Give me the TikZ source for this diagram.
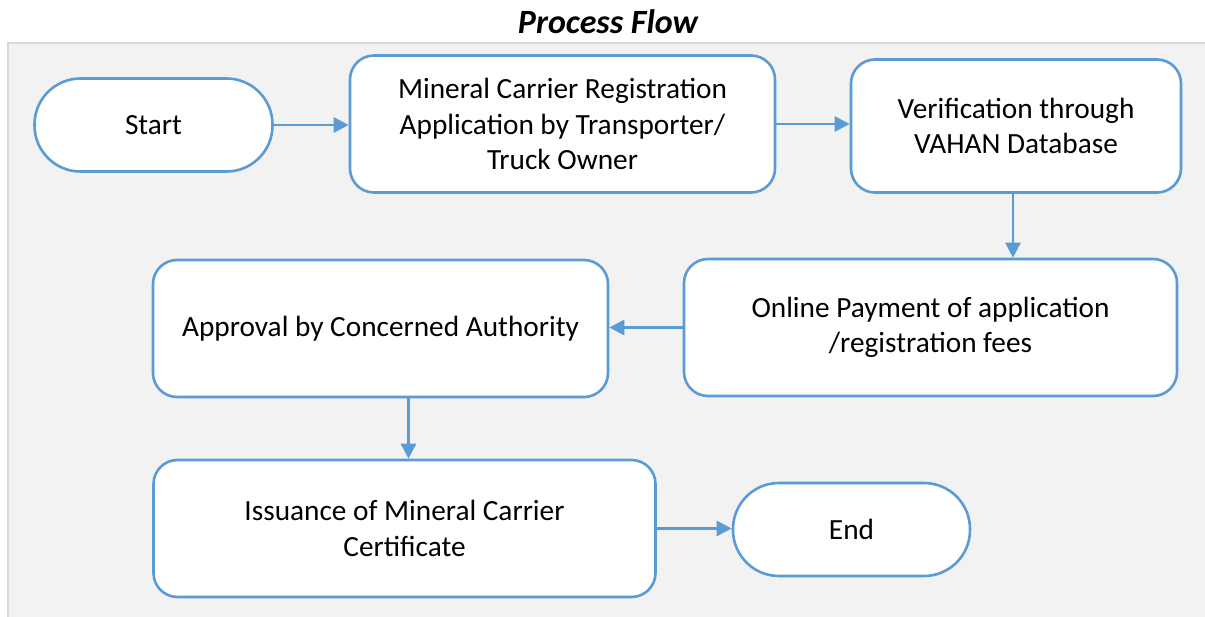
\documentclass[tikz,border=0pt]{standalone}
\usepackage{fontspec}
\setmainfont{Carlito}
\usetikzlibrary{arrows.meta}
\definecolor{flowblue}{HTML}{5B9BD5}
\definecolor{panelfill}{HTML}{F2F2F2}
\definecolor{panelline}{HTML}{D9D9D9}
\begin{document}
\begin{tikzpicture}[x=1pt, y=-1pt,
  every node/.style = {align=center, font=\fontsize{29.3}{35.5}\selectfont},
  terminal/.style = {draw=flowblue, fill=white, line width=2.6pt, rounded corners=46pt, minimum width=238pt, minimum height=93pt},
  stepbox/.style = {draw=flowblue, fill=white, line width=2.6pt, rounded corners=24pt, minimum height=137pt},
  flow/.style = {draw=flowblue, line width=2.6pt, -{Triangle[length=15pt, width=15pt]}}]
\useasboundingbox (0,0) rectangle (1205,617);

% Panel and title
\fill[panelfill, draw=panelline, line width=2pt] (8,43) rectangle (1240,660);
\node[font=\fontsize{34}{40}\selectfont\bfseries\itshape] (title) at (608,22) {Process Flow};

% First row
\node[terminal] (start) at (153.5,125) {Start};
\node[stepbox, minimum width=425pt] (reg) at (562.5,124) {Mineral Carrier Registration\\Application by Transporter/\\Truck Owner};
\node[stepbox, minimum width=330pt, minimum height=133pt] (vahan) at (1016,126) {Verification through\\VAHAN Database};

% Second row
\node[stepbox, minimum width=493pt] (pay) at (930.5,327.5) {Online Payment of application\\/registration fees};
\node[stepbox, minimum width=455pt] (appr) at (380.5,328.5) {Approval by Concerned Authority};

% Third row
\node[stepbox, minimum width=502pt] (issue) at (404.5,528.5) {Issuance of Mineral Carrier\\Certificate};
\node[terminal, minimum width=237pt] (end) at (851.5,529.5) {End};

% Connectors
\draw[flow] (start.east) -- (start.east -| reg.west);
\draw[flow] (reg.east) -- (reg.east -| vahan.west);
\draw[flow] ([xshift=-3pt]vahan.south) -- ([xshift=-3pt]vahan.south |- pay.north);
\draw[flow] (pay.west) -- (pay.west -| appr.east);
\draw[flow] ([xshift=28pt]appr.south) -- ([xshift=28pt]appr.south |- issue.north);
\draw[flow] (issue.east) -- (issue.east -| end.west);
\end{tikzpicture}
\end{document}
